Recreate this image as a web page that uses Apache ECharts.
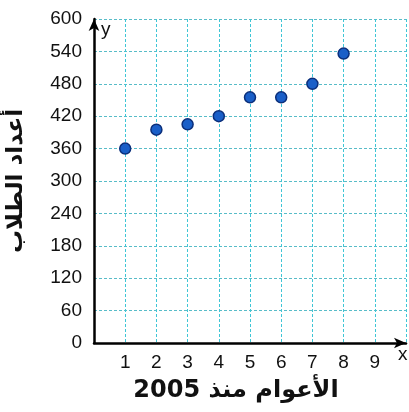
<!DOCTYPE html>
<html><head><meta charset="utf-8">
<script src="https://cdn.jsdelivr.net/npm/echarts@6/dist/echarts.min.js"></script>
<style>html,body{margin:0;padding:0;background:#fff}#c{width:409px;height:412px}</style>
</head><body><div id="c"></div>
<script>
var years = [1, 2, 3, 4, 5, 6, 7, 8];
var students = [360, 395, 405, 420, 455, 455, 480, 536];
var yTicks = [0, 60, 120, 180, 240, 300, 360, 420, 480, 540, 600];
var xTicks = [1, 2, 3, 4, 5, 6, 7, 8, 9];
var yTitle = 'أعداد الطلاب';
var xTitle = 'الأعوام منذ 2005';

var chart = echarts.init(document.getElementById('c'));
var gridColor = '#3fc6d6';
chart.setOption({
  animation: false,
  grid: {left: 94, top: 19, width: 316, bottom: 69},
  xAxis: {
    type: 'value', min: 0, max: 10, interval: 1,
    axisLine: {show: true, lineStyle: {color: '#000', width: 2.5}, symbol: ['none', 'arrow'], symbolSize: [8, 12]},
    axisTick: {show: false},
    splitLine: {show: true, lineStyle: {color: gridColor, type: [3, 2], width: 1}},
    axisLabel: {
      margin: 10, fontSize: 19, color: '#111', fontFamily: 'Liberation Sans',
      formatter: function (v) { return xTicks.indexOf(v) >= 0 ? String(v) : ''; }
    }
  },
  yAxis: {
    type: 'value', min: 0, max: 600, interval: 60,
    axisLine: {show: true, lineStyle: {color: '#000', width: 2.5}, symbol: ['none', 'arrow'], symbolSize: [8, 12]},
    axisTick: {show: false},
    splitLine: {show: true, lineStyle: {color: '#58bcc8', type: [3, 2], width: 1}},
    axisLabel: {
      margin: 12, fontSize: 19, color: '#111', fontFamily: 'Liberation Sans',
      formatter: function (v) { return yTicks.indexOf(v) >= 0 ? String(v) : ''; }
    }
  },
  series: [{
    type: 'scatter',
    data: years.map(function (x, i) { return [x, students[i]]; }),
    symbolSize: 11,
    itemStyle: {color: '#1a5fc8', borderColor: '#0b2f7a', borderWidth: 1.5, opacity: 1}
  }],
  graphic: [
    {type: 'text', left: 101, top: 20, style: {text: 'y', fontSize: 19, fill: '#111', fontFamily: 'Liberation Sans'}},
    {type: 'text', left: 398, top: 345, style: {text: 'x', fontSize: 19, fill: '#111', fontFamily: 'Liberation Sans'}},
    {type: 'text', x: 16, y: 181, rotation: Math.PI / 2,
      style: {text: yTitle, fontSize: 23, fontWeight: 'bold', fill: '#111', fontFamily: 'DejaVu Sans', align: 'center', verticalAlign: 'middle'}},
    {type: 'text', x: 236, y: 391,
      style: {text: xTitle, fontSize: 24, fontWeight: 'bold', fill: '#111', fontFamily: 'DejaVu Sans', align: 'center', verticalAlign: 'middle'}}
  ]
});
</script></body></html>
